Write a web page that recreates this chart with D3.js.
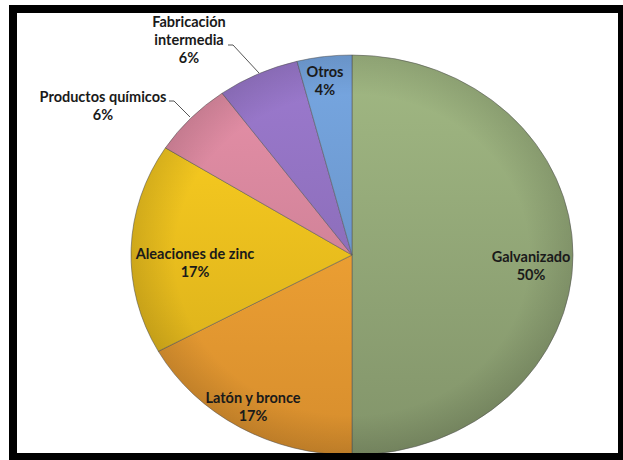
<!DOCTYPE html>
<html>
<head>
<meta charset="utf-8">
<script src="https://cdn.jsdelivr.net/npm/d3@7"></script>
<style>
  body { margin: 0; background: #fff; }
  text { font-family: Lato, "Open Sans", sans-serif; font-weight: 700; fill: #1a1a1a; }
</style>
</head>
<body>
<div id="chart"></div>
<script>
// zinc end uses, clockwise from 12 o'clock
const categories = ["Galvanizado", "Latón y bronce", "Aleaciones de zinc", "Productos químicos", "Fabricación intermedia", "Otros"];
const shares = [50, 17, 17, 6, 6, 4];
const colors = ["#93a878", "#f3a033", "#efc01e", "#d4859b", "#8f70bd", "#6d99cf"];
// label lines (outside labels have leader lines)
const labelLines = [["Galvanizado", "50%"], ["Latón y bronce", "17%"], ["Aleaciones de zinc", "17%"],
    ["Productos químicos", "6%"], ["Fabricación", "intermedia", "6%"], ["Otros", "4%"]];

const width = 623, height = 460;
const cx = 352, cy = 255, rx = 221, ry = 200;

const svg = d3.select("#chart").append("svg")
    .attr("width", width).attr("height", height);

const defs = svg.append("defs");

// frame
svg.append("rect").attr("x", 9).attr("y", 5).attr("width", 614).attr("height", 455).attr("fill", "#000");
svg.append("rect").attr("x", 17).attr("y", 13).attr("width", 601).attr("height", 440).attr("fill", "#fff");

defs.append("clipPath").attr("id", "inner")
    .append("rect").attr("x", 17).attr("y", 13).attr("width", 601).attr("height", 440);

const data = categories.map((c, i) => ({name: c, value: shares[i], color: colors[i], lines: labelLines[i]}));

const pie = d3.pie().value(d => d.value).sort(null);
const arcs = pie(data);
const arc = d3.arc().innerRadius(0).outerRadius(rx);

// per-slice vertical gradient (in the pie's own, unscaled space)
arcs.forEach((a, i) => {
    const g = defs.append("linearGradient").attr("id", "g" + i)
        .attr("gradientUnits", "userSpaceOnUse")
        .attr("x1", 0).attr("y1", -rx).attr("x2", 0).attr("y2", rx);
    g.append("stop").attr("offset", "0%").attr("stop-color", d3.color(a.data.color).brighter(0.25));
    g.append("stop").attr("offset", "100%").attr("stop-color", d3.color(a.data.color).darker(0.35));
});

const rim = defs.append("radialGradient").attr("id", "rim");
rim.append("stop").attr("offset", "80%").attr("stop-color", "#000").attr("stop-opacity", 0);
rim.append("stop").attr("offset", "100%").attr("stop-color", "#000").attr("stop-opacity", 0.12);

const plot = svg.append("g").attr("clip-path", "url(#inner)");

const pieG = plot.append("g")
    .attr("transform", `translate(${cx},${cy}) scale(1,${ry / rx})`);

pieG.selectAll("path.slice")
    .data(arcs)
    .join("path")
    .attr("class", "slice")
    .attr("d", arc)
    .attr("fill", (d, i) => `url(#g${i})`)
    .attr("stroke", "#5a5a5a")
    .attr("stroke-opacity", 0.55)
    .attr("stroke-width", 1)
    .attr("vector-effect", "non-scaling-stroke");

pieG.append("circle").attr("r", rx).attr("fill", "url(#rim)");

// label positions (screen coords, centre of first line)
const labelPos = [[531, 257], [253, 398], [195, 254], [103, 97], [189, 22], [325, 72]];
const lineH = 18;

plot.selectAll("text.lbl")
    .data(arcs)
    .join("text")
    .attr("class", "lbl")
    .attr("text-anchor", "middle")
    .attr("font-size", 14.5)
    .each(function (d, i) {
        const t = d3.select(this);
        d.data.lines.forEach((ln, j) => {
            t.append("tspan")
                .attr("x", labelPos[i][0])
                .attr("y", labelPos[i][1] + j * lineH)
                .attr("dy", "0.35em")
                .text(ln);
        });
    });

// leader lines for outside labels
const leaders = [
    [[169, 101], [174, 101], [190, 117]],
    [[228, 45], [233, 45], [259, 73]]
];
plot.selectAll("path.leader")
    .data(leaders)
    .join("path")
    .attr("class", "leader")
    .attr("d", d3.line())
    .attr("fill", "none")
    .attr("stroke", "#555")
    .attr("stroke-width", 1);
</script>
</body>
</html>
